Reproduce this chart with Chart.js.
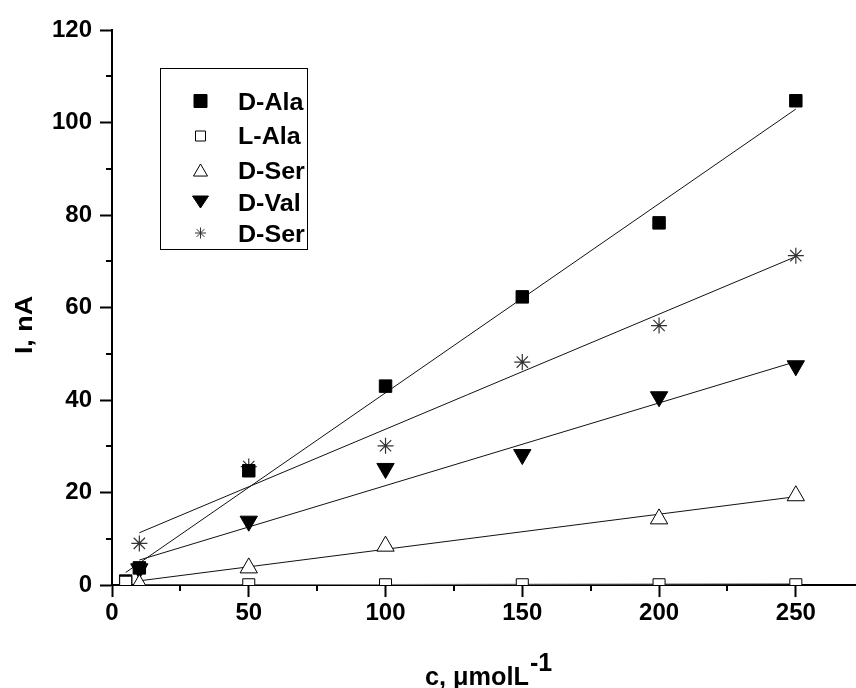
<!DOCTYPE html>
<html>
<head>
<meta charset="utf-8">
<script src="https://cdn.jsdelivr.net/npm/chart.js@4.4.1/dist/chart.umd.min.js"></script>
<style>
html,body{margin:0;padding:0;background:#ffffff;}
#wrap{width:856px;height:688px;position:relative;}
</style>
</head>
<body>
<div id="wrap"><canvas id="c" width="856" height="688"></canvas></div>
<script>
// ---- data ----
const concentrations = [5, 10, 50, 100, 150, 200, 250];
const seriesLabels = ['D-Ala', 'L-Ala', 'D-Ser', 'D-Val', 'D-Ser'];
const dAla  = [0.85, 3.7, 24.7, 43.0, 62.3, 78.3, 104.7];
const lAla  = [0.6, null, 0.05, 0.05, 0.05, 0.05, 0.05];
const dSer  = [null, 0.1, 3.7, 8.4, null, 14.3, 19.3];
const dVal  = [null, 3.5, 13.8, 25.2, 28.2, 40.7, 47.4];
const dSer2 = [null, 9.0, 25.6, 30.1, 48.2, 56.1, 71.2];
// fitted straight lines: x end points and y end points
const fitDAlaX  = [5, 250];   const fitDAlaY  = [2.7, 102.9];
const fitLAlaX  = [10, 250];  const fitLAlaY  = [0.0, 0.3];
const fitDSerX  = [10, 250];  const fitDSerY  = [0.9, 19.1];
const fitDValX  = [10, 250];  const fitDValY  = [5.4, 48.3];
const fitDSer2X = [10, 250];  const fitDSer2Y = [11.3, 71.0];
// axes
const xMajorTicks = [0, 50, 100, 150, 200, 250];
const xMinorTicks = [25, 75, 125, 175, 225];
const yMajorTicks = [0, 20, 40, 60, 80, 100, 120];
const yMinorTicks = [10, 30, 50, 70, 90, 110];
const xTitle = 'c, \u03BCmolL';
const xTitleSup = '-1';
const yTitle = 'I, nA';

const FONT = '"Liberation Sans", Arial, Helvetica, sans-serif';

function pts(xs, ys) {
  const out = [];
  for (let i = 0; i < xs.length; i++) {
    if (ys[i] !== null && ys[i] !== undefined) out.push({x: xs[i], y: ys[i]});
  }
  return out;
}

const clipBottom = {left: false, top: false, right: false, bottom: 0};

function fitDs(xs, ys, color) {
  return {
    type: 'line', data: pts(xs, ys), borderColor: color, borderWidth: 1,
    pointRadius: 0, fill: false, tension: 0, order: 10, clip: clipBottom
  };
}

const datasets = [
  {label: seriesLabels[1], data: pts(concentrations, lAla), pointStyle: 'rect', pointRadius: 8.5,
   backgroundColor: '#ffffff', borderColor: '#000000', borderWidth: 1, order: 0, clip: clipBottom},
  {label: seriesLabels[2], data: pts(concentrations, dSer), pointStyle: 'triangle', pointRadius: 10,
   backgroundColor: '#ffffff', borderColor: '#000000', borderWidth: 1, order: 1, clip: clipBottom},
  {label: seriesLabels[0], data: pts(concentrations, dAla), pointStyle: 'rect', pointRadius: 8.8,
   backgroundColor: '#000000', borderColor: '#000000', borderWidth: 1, order: 2, clip: clipBottom},
  {label: seriesLabels[3], data: pts(concentrations, dVal), pointStyle: 'triangle', pointRotation: 180, pointRadius: 10,
   backgroundColor: '#000000', borderColor: '#000000', borderWidth: 1, order: 3, clip: clipBottom},
  {label: seriesLabels[4], data: pts(concentrations, dSer2), pointStyle: 'star', pointRadius: 8,
   backgroundColor: '#333333', borderColor: '#333333', borderWidth: 1.2, order: 4, clip: clipBottom},
  fitDs(fitDAlaX, fitDAlaY, '#111111'),
  fitDs(fitLAlaX, fitLAlaY, '#888888'),
  fitDs(fitDSerX, fitDSerY, '#111111'),
  fitDs(fitDValX, fitDValY, '#111111'),
  fitDs(fitDSer2X, fitDSer2Y, '#111111')
];

// marker drawing for the legend
function marker(ctx, kind, x, y, s) {
  ctx.save();
  ctx.lineWidth = 1;
  ctx.strokeStyle = '#000';
  ctx.fillStyle = '#000';
  ctx.beginPath();
  if (kind === 'fsq' || kind === 'osq') {
    ctx.rect(x - s / 2, y - s / 2, s, s);
    if (kind === 'fsq') ctx.fill(); else { ctx.fillStyle = '#fff'; ctx.fill(); }
    ctx.stroke();
  } else if (kind === 'otri') {
    const h = s * 0.866;
    ctx.moveTo(x, y - h / 2); ctx.lineTo(x + s / 2, y + h / 2); ctx.lineTo(x - s / 2, y + h / 2); ctx.closePath();
    ctx.fillStyle = '#fff'; ctx.fill(); ctx.stroke();
  } else if (kind === 'ftri') {
    const h = s * 0.75;
    ctx.moveTo(x - s / 2, y - h / 2); ctx.lineTo(x + s / 2, y - h / 2); ctx.lineTo(x, y + h / 2); ctx.closePath();
    ctx.fill(); ctx.stroke();
  } else if (kind === 'star') {
    const r = s / 2, d = r * Math.SQRT1_2;
    ctx.strokeStyle = '#333';
    ctx.moveTo(x - r, y); ctx.lineTo(x + r, y);
    ctx.moveTo(x, y - r); ctx.lineTo(x, y + r);
    ctx.moveTo(x - d, y - d); ctx.lineTo(x + d, y + d);
    ctx.moveTo(x - d, y + d); ctx.lineTo(x + d, y - d);
    ctx.stroke();
  }
  ctx.restore();
}

const decor = {
  id: 'decor',
  afterDraw(chart) {
    const ctx = chart.ctx;
    const xs = chart.scales.x, ys = chart.scales.y;
    const area = chart.chartArea;
    ctx.save();
    // minor ticks
    ctx.strokeStyle = '#000';
    ctx.lineWidth = 2;
    ctx.beginPath();
    xMinorTicks.forEach(v => {
      const px = Math.round(xs.getPixelForValue(v));
      ctx.moveTo(px, area.bottom); ctx.lineTo(px, area.bottom + 6);
    });
    yMinorTicks.forEach(v => {
      const py = Math.round(ys.getPixelForValue(v));
      ctx.moveTo(area.left, py); ctx.lineTo(area.left - 6, py);
    });
    ctx.stroke();

    // legend box
    ctx.lineWidth = 1;
    ctx.strokeStyle = '#000';
    ctx.fillStyle = '#fff';
    ctx.fillRect(160.5, 68.5, 147, 181);
    ctx.strokeRect(160.5, 68.5, 147, 181);
    const kinds = ['fsq', 'osq', 'otri', 'ftri', 'star'];
    const sizes = [13, 10, 14, 16, 11];
    const my = [101, 136, 170, 202, 233];
    const by = [109.5, 144, 178.5, 210.5, 241.5];
    for (let i = 0; i < 5; i++) {
      marker(ctx, kinds[i], 200.5, my[i], sizes[i]);
      ctx.save();
      ctx.fillStyle = '#000';
      ctx.font = 'bold 23px ' + FONT;
      ctx.textBaseline = 'alphabetic';
      ctx.textAlign = 'left';
      ctx.translate(238, by[i]);
      ctx.scale(1.09, 1);
      ctx.fillText(seriesLabels[i], 0, 0);
      ctx.restore();
    }

    // y title
    ctx.save();
    ctx.fillStyle = '#000';
    ctx.font = 'bold 24px ' + FONT;
    ctx.textAlign = 'center';
    ctx.textBaseline = 'middle';
    ctx.translate(25, 325);
    ctx.rotate(-Math.PI / 2);
    ctx.scale(1.12, 1);
    ctx.fillText(yTitle, 0, 0);
    ctx.restore();

    // x title with superscript
    ctx.save();
    ctx.fillStyle = '#000';
    ctx.font = 'bold 25px ' + FONT;
    ctx.textAlign = 'left';
    ctx.textBaseline = 'alphabetic';
    const w = ctx.measureText(xTitle).width;
    const sx = 104 / w;
    ctx.save();
    ctx.translate(425, 685);
    ctx.scale(sx, 1);
    ctx.fillText(xTitle, 0, 0);
    ctx.restore();
    ctx.font = 'bold 25px ' + FONT;
    ctx.fillText(xTitleSup, 530, 671);
    ctx.restore();

    ctx.restore();
  }
};

new Chart(document.getElementById('c'), {
  type: 'scatter',
  data: {datasets: datasets},
  options: {
    responsive: false,
    animation: false,
    devicePixelRatio: 1,
    layout: {autoPadding: false, padding: {top: 30, right: 0, left: 0, bottom: 0}},
    plugins: {legend: {display: false}, tooltip: {enabled: false}, title: {display: false}},
    scales: {
      x: {
        type: 'linear', min: 0, max: 272,
        afterBuildTicks(scale) { scale.ticks = xMajorTicks.map(v => ({value: v})); },
        afterFit(scale) { scale.height = 103; scale.paddingLeft = 0; scale.paddingRight = 0; },
        ticks: {color: '#000', font: {family: FONT, size: 24, weight: 'bold'}, padding: 2, maxRotation: 0, autoSkip: false},
        grid: {drawOnChartArea: false, drawTicks: true, tickLength: 12, tickWidth: 2, tickColor: '#000'},
        border: {display: true, width: 2, color: '#000'}
      },
      y: {
        type: 'linear', min: 0, max: 120,
        afterBuildTicks(scale) { scale.ticks = yMajorTicks.map(v => ({value: v})); },
        afterFit(scale) { scale.width = 112; scale.paddingTop = 0; scale.paddingBottom = 0; },
        ticks: {color: '#000', font: {family: FONT, size: 24, weight: 'bold'}, padding: 8, autoSkip: false},
        grid: {drawOnChartArea: false, drawTicks: true, tickLength: 12, tickWidth: 2, tickColor: '#000'},
        border: {display: true, width: 2, color: '#000'}
      }
    }
  },
  plugins: [decor]
});
</script>
</body>
</html>
